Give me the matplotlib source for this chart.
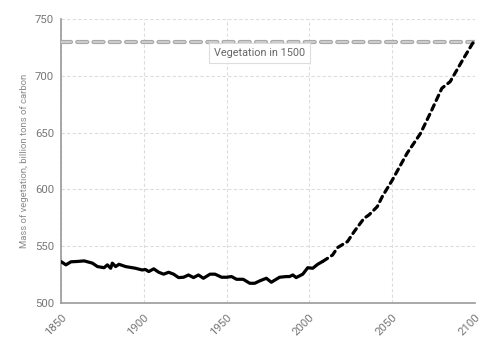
import matplotlib
matplotlib.use("Agg")
import matplotlib.pyplot as plt

plt.rcParams["font.family"] = ["Roboto", "DejaVu Sans"]

# observed / modelled history (solid)
hist_years = [1850, 1853, 1856, 1860, 1864, 1869, 1872, 1876, 1878, 1880, 1881,
              1883, 1885, 1889, 1895, 1899, 1901, 1903, 1906, 1909, 1912, 1915,
              1918, 1921, 1924, 1927, 1930, 1933, 1936, 1940, 1943, 1947, 1950,
              1953, 1956, 1960, 1964, 1967, 1970, 1974, 1977, 1982, 1986, 1988,
              1990, 1992, 1996, 1999, 2002, 2005, 2008]
hist_vals = [536.4, 533.5, 536.2, 536.5, 537.0, 535.0, 532.0, 531.0, 533.5, 530.5, 535.0,
             532.0, 534.0, 532.0, 530.5, 529.0, 529.4, 527.6, 530.0, 527.0, 525.3, 527.0,
             525.3, 522.3, 522.6, 524.6, 522.3, 524.6, 521.7, 525.3, 525.3, 522.6, 522.6,
             523.2, 520.8, 520.8, 517.3, 517.3, 519.4, 521.7, 518.2, 522.6, 523.2, 523.2,
             524.6, 522.3, 525.3, 531.0, 530.5, 534.0, 536.5]

# projection (dashed)
proj_years = [2008, 2011, 2014, 2017, 2023, 2027, 2033, 2036, 2041, 2044, 2050,
              2059, 2067, 2073, 2080, 2085, 2093, 2100]
proj_vals = [536.5, 539.3, 542.2, 548.7, 554.0, 562.7, 574.5, 577.5, 584.8, 593.6, 608.0,
             631.8, 649.0, 667.0, 689.0, 694.8, 715.0, 732.0]

ref_value = 730
ref_label = "Vegetation in 1500"

x_ticks = [1850, 1900, 1950, 2000, 2050, 2100]
y_ticks = [500, 550, 600, 650, 700, 750]

fig = plt.figure(figsize=(5.0, 3.51), dpi=100)
ax = fig.add_axes([0.122, 0.137, 0.828, 0.809])

# reference level: outlined gray dashes
ax.axhline(ref_value, color="#a8a8a8", lw=3.0, dashes=(2.4, 1.5),
           dash_capstyle="round", zorder=3)
ax.axhline(ref_value, color="#d4d4d4", lw=1.2, dashes=(6.0, 3.75),
           dash_capstyle="round", zorder=4)
ax.text(1970, 720, ref_label,
        ha="center", va="center", fontsize=7.8, color="#666666", zorder=5,
        bbox=dict(boxstyle="square,pad=0.45", fc="white", ec="#dddddd", lw=0.8))

ax.plot(hist_years, hist_vals, color="black", lw=2.3, solid_joinstyle="round",
        solid_capstyle="round", zorder=6)
ax.plot(proj_years, proj_vals, color="black", lw=2.3, dashes=(1.8, 1.5),
        dash_capstyle="round", zorder=6)

ax.set_xlim(1850, 2100)
ax.set_ylim(500, 750)
ax.set_xticks(x_ticks)
ax.set_yticks(y_ticks)
ax.set_xticklabels([str(t) for t in x_ticks], rotation=45, ha="right",
                   rotation_mode="anchor")
ax.tick_params(axis="both", length=0, pad=5, labelsize=8.2, labelcolor="#777777")
ax.tick_params(axis="x", pad=7)

ax.grid(True, color="#dddddd", lw=0.8, ls=(0, (3, 2)))
ax.set_axisbelow(True)
for side in ("top", "right"):
    ax.spines[side].set_visible(False)
for side in ("left", "bottom"):
    ax.spines[side].set_color("#9a9a9a")
    ax.spines[side].set_linewidth(1.2)

ax.set_ylabel("Mass of vegetation, billion tons of carbon", fontsize=6.8,
              color="#8a8a8a", labelpad=4)

fig.savefig("out.png", dpi=100)
